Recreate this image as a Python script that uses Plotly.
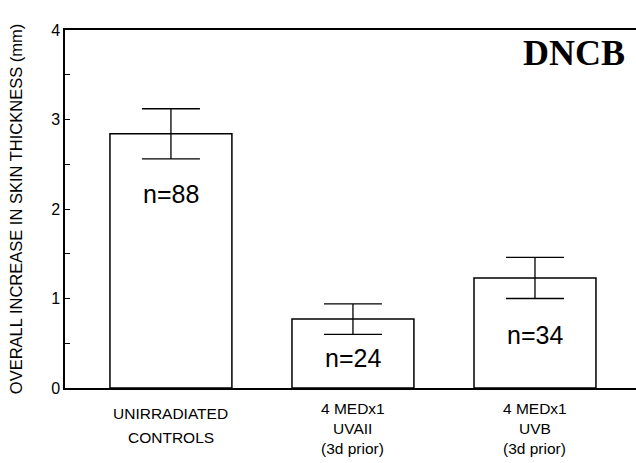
import plotly.graph_objects as go

category_lines = [["UNIRRADIATED", "CONTROLS"],
                  ["4 MEDx1", "UVAII", "(3d prior)"],
                  ["4 MEDx1", "UVB", "(3d prior)"]]
means = [2.84, 0.77, 1.23]
errors = [0.28, 0.17, 0.23]
n_labels = ["n=88", "n=24", "n=34"]
n_label_y = [2.17, 0.33, 0.59]
y_tickvals = [0, 0.5, 1, 1.5, 2, 2.5, 3, 3.5, 4]
y_ticktext = ["0", "", "1", "", "2", "", "3", "", "4"]

x = list(range(len(category_lines)))

fig = go.Figure()
fig.add_trace(go.Bar(
    x=x, y=means, width=0.67,
    marker=dict(color="white", line=dict(color="black", width=1.5)),
    error_y=dict(type="data", array=errors, visible=True, color="black", thickness=1.3, width=29),
    showlegend=False,
))

for xi, txt, yy in zip(x, n_labels, n_label_y):
    fig.add_annotation(x=xi, y=yy, text=txt, showarrow=False,
                       font=dict(family="Liberation Sans, Arial", size=25, color="black"))

# category labels, one annotation per line (pixel offsets below the axis)
line_offsets = {2: [25, 49], 3: [20, 40, 60]}
for xi, lines in zip(x, category_lines):
    offs = line_offsets[len(lines)]
    for ln, off in zip(lines, offs):
        fig.add_annotation(x=xi, y=0, yref="y", text=ln, showarrow=False,
                           yanchor="middle", yshift=-off,
                           font=dict(family="Liberation Sans, Arial", size=15.5, color="black"))

fig.add_annotation(x=0.985, y=0.997, xref="paper", yref="paper", text="<b>DNCB</b>",
                   showarrow=False, xanchor="right", yanchor="top",
                   font=dict(family="Liberation Serif, Times New Roman", size=36, color="black"))

fig.update_layout(
    width=636, height=463,
    margin=dict(l=65, r=0, t=30, b=75),
    plot_bgcolor="white", paper_bgcolor="white",
    font=dict(family="Liberation Sans, Arial", color="black"),
)
fig.update_xaxes(
    range=[-0.582, 2.555], tickvals=x, showticklabels=False,
    showline=True, linecolor="black", linewidth=1.5, mirror=True,
    ticks="", showgrid=False, zeroline=False,
)
fig.update_yaxes(
    range=[0, 4], tickvals=y_tickvals, ticktext=y_ticktext,
    showline=True, linecolor="black", linewidth=1.5,
    ticks="inside", ticklen=5, tickcolor="black",
    showgrid=False, zeroline=False,
    tickfont=dict(size=16, family="Liberation Sans, Arial"),
    title=dict(text="OVERALL INCREASE IN SKIN THICKNESS (mm)", standoff=24,
               font=dict(size=16.5, family="Liberation Sans, Arial")),
)

fig.write_html("out.html", config={"displayModeBar": False},
               post_script="document.body.style.margin='0px';")
